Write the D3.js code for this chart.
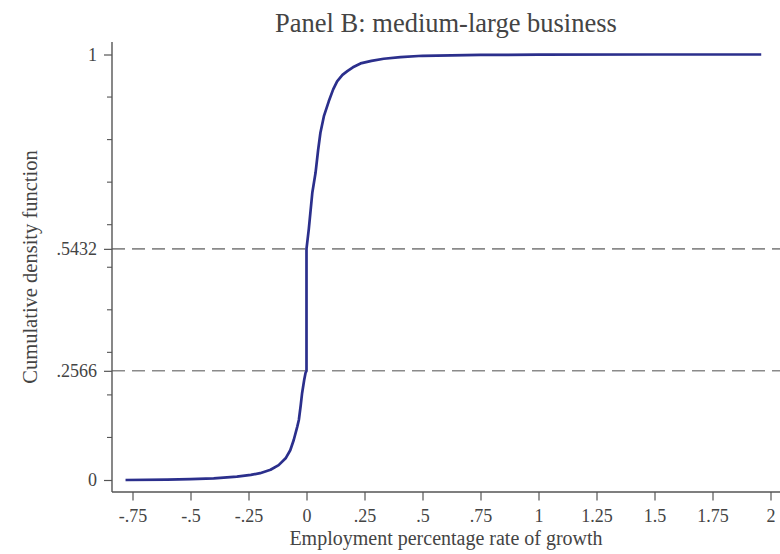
<!DOCTYPE html>
<html>
<head>
<meta charset="utf-8">
<script src="https://cdn.jsdelivr.net/npm/d3@7"></script>
<style>
  html, body { margin: 0; padding: 0; background: #fff; }
  svg { display: block; }
  text { font-family: "Liberation Serif", "DejaVu Serif", serif; fill: #444; }
</style>
</head>
<body>
<svg id="chart" width="780" height="554"></svg>
<script>
// Empirical CDF of employment growth rate, medium-large businesses
const growthRate = [-0.78, -0.6, -0.5, -0.4, -0.3, -0.24, -0.2, -0.155, -0.12, -0.09, -0.07, -0.055,
  -0.04, -0.033, -0.025, -0.019, -0.01, -0.004, 0, 0, 0.01, 0.025, 0.039, 0.05, 0.06, 0.075, 0.096,
  0.115, 0.132, 0.155, 0.176, 0.2, 0.233, 0.28, 0.333, 0.405, 0.5, 0.75, 1.0, 1.5, 1.96];
const cdfValue = [0, 0.001, 0.002, 0.004, 0.008, 0.012, 0.016, 0.024, 0.035, 0.051, 0.07, 0.094,
  0.125, 0.141, 0.175, 0.204, 0.235, 0.252, 0.2566, 0.5432, 0.59, 0.675, 0.722, 0.775, 0.816, 0.855, 0.89,
  0.918, 0.937, 0.952, 0.961, 0.97, 0.979, 0.985, 0.99, 0.994, 0.997, 0.999, 0.9995, 1, 1];

const xTicks = [-0.75, -0.5, -0.25, 0, 0.25, 0.5, 0.75, 1, 1.25, 1.5, 1.75, 2];
const xTickLabels = ["-.75", "-.5", "-.25", "0", ".25", ".5", ".75", "1", "1.25", "1.5", "1.75", "2"];
const yTicks = [0, 0.2566, 0.5432, 1];
const yTickLabels = ["0", ".2566", ".5432", "1"];
const yMinorTicks = [0.1, 0.2, 0.3, 0.4, 0.5, 0.6, 0.7, 0.8, 0.9];
const refLines = [0.2566, 0.5432];

const titleText = "Panel B: medium-large business";
const xTitle = "Employment percentage rate of growth";
const yTitle = "Cumulative density function";

const svg = d3.select("#chart");
const plotLeft = 112, plotRight = 780, plotTop = 42, plotBottom = 492;

const x = d3.scaleLinear().domain([-0.75, 2]).range([132.5, 770.5]);
const y = d3.scaleLinear().domain([0, 1]).range([480, 54.5]);
const axisColor = "#555";
const serif = '"Liberation Serif", "DejaVu Serif", serif';

// horizontal reference lines at the quantile markers
svg.selectAll("line.ref").data(refLines).join("line")
  .attr("class", "ref")
  .attr("x1", plotLeft).attr("x2", plotRight)
  .attr("y1", d => y(d)).attr("y2", d => y(d))
  .attr("stroke", "#8a8a8a").attr("stroke-width", 1.6)
  .attr("stroke-dasharray", "13,7");

// x axis
const xAxis = d3.axisBottom(x).tickValues(xTicks)
  .tickFormat((d, i) => xTickLabels[i]).tickSize(8.5).tickPadding(9).tickSizeOuter(0);
const gx = svg.append("g").attr("transform", `translate(0,${plotBottom})`).call(xAxis);
gx.select(".domain").remove();
gx.selectAll(".tick line").attr("stroke", axisColor).attr("stroke-width", 1.2);
gx.selectAll(".tick text").attr("font-size", 18).attr("fill", "#444").style("font-family", serif);
svg.append("line").attr("x1", plotLeft).attr("x2", plotRight)
  .attr("y1", plotBottom).attr("y2", plotBottom)
  .attr("stroke", axisColor).attr("stroke-width", 1.4);

// y axis: minor ticks
svg.selectAll("line.minor").data(yMinorTicks).join("line")
  .attr("class", "minor")
  .attr("x1", plotLeft - 5).attr("x2", plotLeft)
  .attr("y1", d => y(d)).attr("y2", d => y(d))
  .attr("stroke", axisColor).attr("stroke-width", 1.1);

const yAxis = d3.axisLeft(y).tickValues(yTicks)
  .tickFormat((d, i) => yTickLabels[i]).tickSize(8).tickPadding(7).tickSizeOuter(0);
const gy = svg.append("g").attr("transform", `translate(${plotLeft},0)`).call(yAxis);
gy.select(".domain").remove();
gy.selectAll(".tick line").attr("stroke", axisColor).attr("stroke-width", 1.2);
gy.selectAll(".tick text").attr("font-size", 18).attr("fill", "#444").style("font-family", serif);
svg.append("line").attr("x1", plotLeft).attr("x2", plotLeft)
  .attr("y1", plotTop).attr("y2", plotBottom)
  .attr("stroke", axisColor).attr("stroke-width", 1.4);

// CDF curve
const pts = growthRate.map((g, i) => [g, cdfValue[i]]);
const line = d3.line().x(d => x(d[0])).y(d => y(d[1])).curve(d3.curveLinear);
svg.append("path").datum(pts)
  .attr("d", line)
  .attr("fill", "none")
  .attr("stroke", "#2b2f8c")
  .attr("stroke-width", 2.7)
  .attr("stroke-linejoin", "round");

// titles
svg.append("text").attr("x", (plotLeft + plotRight) / 2).attr("y", 32)
  .attr("text-anchor", "middle").attr("font-size", 26.5).text(titleText);
svg.append("text").attr("x", (plotLeft + plotRight) / 2).attr("y", 545)
  .attr("text-anchor", "middle").attr("font-size", 20).text(xTitle);
svg.append("text")
  .attr("transform", `translate(37,267) rotate(-90)`)
  .attr("text-anchor", "middle").attr("font-size", 20.5).text(yTitle);
</script>
</body>
</html>
